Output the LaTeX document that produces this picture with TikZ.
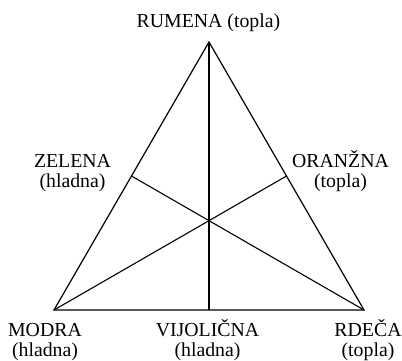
\documentclass[tikz,border=0pt]{standalone}
\usepackage{fontspec}
\setmainfont{Liberation Serif}
\usetikzlibrary{calc,positioning}
\tikzset{
  edge/.style={draw=black, line width=1.2pt, line join=miter},
  median/.style={draw=black, line width=1.1pt},
  hue label/.style={align=center, inner sep=0pt, anchor=base,
    font=\fontsize{19.8}{20}\selectfont}
}
\begin{document}
\begin{tikzpicture}[x=1pt, y=1pt]
  \useasboundingbox (0,0) rectangle (402,360);
  % primary colours at the corners
  \coordinate (yellow) at (209,318);
  \coordinate (blue) at (54,50);
  \coordinate (red) at (364,50);
  % secondary colours halfway along the sides
  \coordinate (green) at ($(yellow)!0.5!(blue)$);
  \coordinate (orange) at ($(yellow)!0.5!(red)$);
  \coordinate (violet) at ($(blue)!0.5!(red)$);
  \draw[edge] (yellow) -- (blue) -- (red) -- cycle;
  \draw[median] (yellow) -- (violet);
  \draw[median] (blue) -- (orange);
  \draw[median] (red) -- (green);
  \node[hue label] (rumena) at (208.5,333) {RUMENA (topla)};
  \node[hue label] (zelena) at (72.5,173) {ZELENA\\(hladna)};
  \node[hue label] (oranzna) at (340.5,173) {ORANŽNA\\(topla)};
  \node[hue label] (modra) at (45,4) {MODRA\\(hladna)};
  \node[hue label] (vijolicna) at (207.5,4) {VIJOLIČNA\\(hladna)};
  \node[hue label] (rdeca) at (368,4) {RDEČA\\(topla)};
\end{tikzpicture}
\end{document}
